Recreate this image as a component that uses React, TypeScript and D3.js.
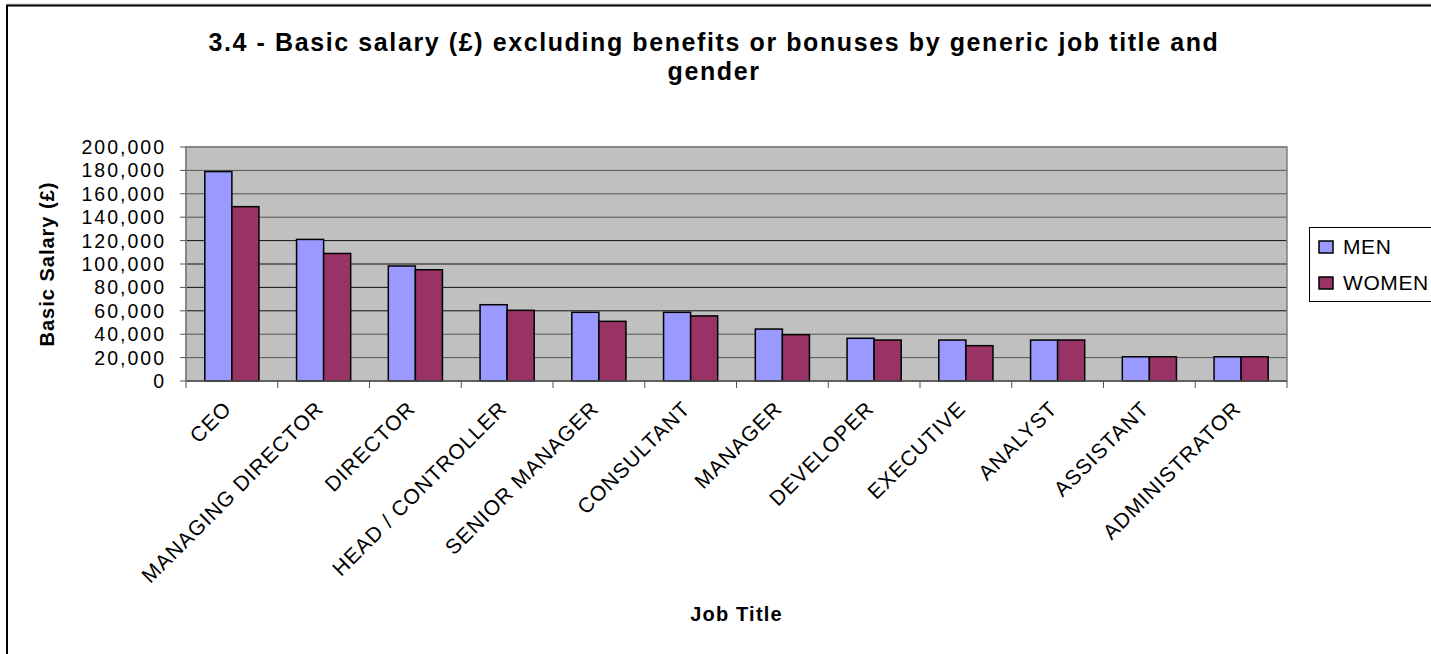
import React from "react";
import * as d3 from "d3";

const categories = [
  "CEO",
  "MANAGING DIRECTOR",
  "DIRECTOR",
  "HEAD / CONTROLLER",
  "SENIOR MANAGER",
  "CONSULTANT",
  "MANAGER",
  "DEVELOPER",
  "EXECUTIVE",
  "ANALYST",
  "ASSISTANT",
  "ADMINISTRATOR",
];
const seriesNames = ["MEN", "WOMEN"];
const menValues = [179000, 121000, 98300, 65200, 58700, 58700, 44400, 36500, 35000, 35000, 20700, 20700];
const womenValues = [149000, 109000, 95100, 60400, 51000, 55600, 39600, 35000, 30200, 35000, 20700, 20700];
const yTicks = [0, 20000, 40000, 60000, 80000, 100000, 120000, 140000, 160000, 180000, 200000];
const titleLines = ["3.4 - Basic salary (£) excluding benefits or bonuses by generic job title and", "gender"];
const yAxisTitle = "Basic Salary (£)";
const xAxisTitle = "Job Title";

const colors = ["#9999FF", "#993366"];
const FONT = "'Liberation Sans', Arial, Helvetica, sans-serif";

export default function App() {
  const W = 1431;
  const H = 654;
  const plot = { left: 186, right: 1287, top: 147, bottom: 381 };

  const x = d3
    .scaleBand<string>()
    .domain(categories)
    .range([plot.left, plot.right])
    .paddingInner(0.41)
    .paddingOuter(0.205);
  const xs = d3.scaleBand<string>().domain(seriesNames).range([0, x.bandwidth()]).padding(0);
  const y = d3.scaleLinear().domain([0, 200000]).range([plot.bottom, plot.top]);
  const fmt = d3.format(",");
  const step = x.step();
  const boundaries = d3.range(categories.length + 1).map((i) => plot.left + i * step);
  const values = [menValues, womenValues];

  return (
    <svg
      width={W}
      height={H}
      style={{ position: "absolute", left: 0, top: 0, background: "#fff" }}
      fontFamily={FONT}
    >
      {/* chart border */}
      <line x1={7} x2={W + 10} y1={4} y2={4} stroke="#c8c8c8" strokeWidth={1} />
      <rect x={7} y={5.5} width={W + 20} height={H + 20} fill="#fff" stroke="#000" strokeWidth={2} />

      {/* title */}
      {titleLines.map((t, i) => (
        <text
          key={i}
          x={714}
          y={51 + i * 29}
          textAnchor="middle"
          fontSize={25}
          fontWeight="bold"
          letterSpacing={1.6}
          fill="#000"
        >
          {t}
        </text>
      ))}

      {/* plot area */}
      <rect
        x={plot.left}
        y={plot.top}
        width={plot.right - plot.left}
        height={plot.bottom - plot.top}
        fill="#C0C0C0"
      />
      {yTicks.map((t) => (
        <line
          key={"g" + t}
          x1={plot.left}
          x2={plot.right}
          y1={y(t)}
          y2={y(t)}
          stroke={t >= 140000 || t <= 40000 ? "#555" : "#111"}
          strokeWidth={1}
        />
      ))}
      <rect
        x={plot.left}
        y={plot.top}
        width={plot.right - plot.left}
        height={plot.bottom - plot.top}
        fill="none"
        stroke="#808080"
        strokeWidth={1.5}
      />

      {/* bars */}
      {categories.map((c, ci) =>
        seriesNames.map((s, si) => (
          <rect
            key={c + s}
            x={(x(c) as number) + (xs(s) as number)}
            y={y(values[si][ci])}
            width={xs.bandwidth()}
            height={plot.bottom - y(values[si][ci])}
            fill={colors[si]}
            stroke="#000"
            strokeWidth={1.5}
          />
        ))
      )}

      {/* axes */}
      <line x1={plot.left} x2={plot.right} y1={plot.bottom} y2={plot.bottom} stroke="#555" strokeWidth={1.5} />
      <line x1={plot.left} x2={plot.left} y1={plot.top} y2={plot.bottom} stroke="#808080" strokeWidth={1.5} />
      {yTicks.map((t) => (
        <g key={"yt" + t}>
          <line x1={plot.left - 6} x2={plot.left} y1={y(t)} y2={y(t)} stroke="#555" strokeWidth={1} />
          <text
            x={166}
            y={y(t)}
            dy="0.36em"
            textAnchor="end"
            fontSize={19.5}
            letterSpacing={2}
            fill="#000"
          >
            {fmt(t)}
          </text>
        </g>
      ))}
      {boundaries.map((b, i) => (
        <line key={"xt" + i} x1={b} x2={b} y1={plot.bottom} y2={plot.bottom + 7} stroke="#555" strokeWidth={1} />
      ))}
      {categories.map((c) => {
        const cx = (x(c) as number) + x.bandwidth() / 2;
        return (
          <text
            key={"xl" + c}
            transform={`translate(${cx + 1},${plot.bottom + 29}) rotate(-45)`}
            textAnchor="end"
            fontSize={21}
            letterSpacing={1}
            fill="#000"
          >
            {c}
          </text>
        );
      })}

      {/* axis titles */}
      <text
        transform={`translate(54,${(plot.top + plot.bottom) / 2}) rotate(-90)`}
        textAnchor="middle"
        fontSize={20}
        fontWeight="bold"
        letterSpacing={1}
        fill="#000"
      >
        {yAxisTitle}
      </text>
      <text
        x={(plot.left + plot.right) / 2}
        y={621}
        textAnchor="middle"
        fontSize={20}
        fontWeight="bold"
        letterSpacing={1.2}
        fill="#000"
      >
        {xAxisTitle}
      </text>

      {/* legend */}
      <rect x={1309.5} y={227.5} width={140} height={74} fill="#fff" stroke="#000" strokeWidth={1} />
      {seriesNames.map((s, i) => (
        <g key={"lg" + s}>
          <rect x={1319} y={241 + i * 36} width={14} height={12} fill={colors[i]} stroke="#000" strokeWidth={1.5} />
          <text x={1343} y={254 + i * 36} fontSize={21} letterSpacing={0.6} fill="#000">
            {s}
          </text>
        </g>
      ))}
    </svg>
  );
}
